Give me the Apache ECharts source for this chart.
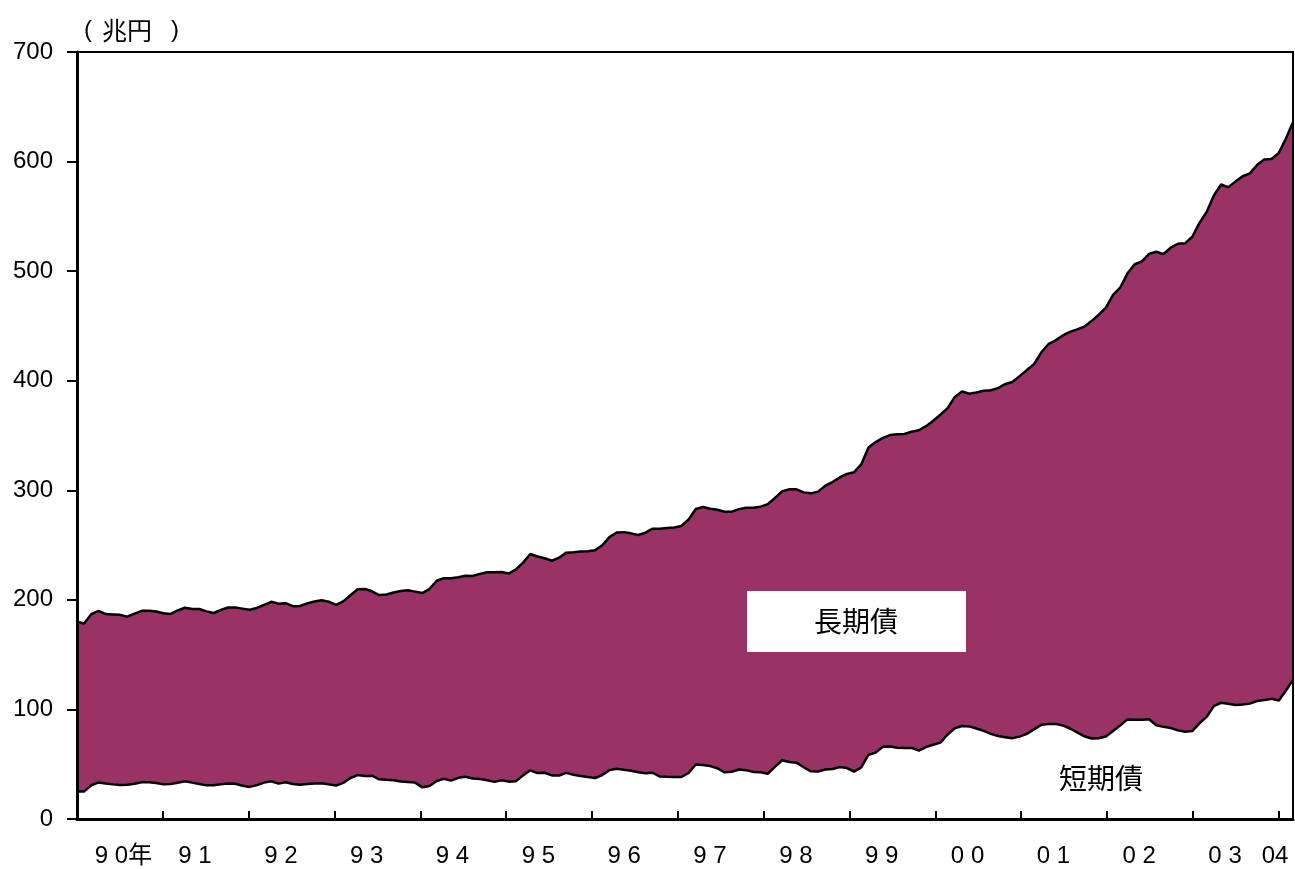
<!DOCTYPE html>
<html>
<head>
<meta charset="utf-8">
<title>短期債・長期債</title>
<script src="https://cdn.jsdelivr.net/npm/echarts@6/dist/echarts.min.js"></script>
<style>
  html, body { margin: 0; padding: 0; background: #fff; }
  #chart { width: 1295px; height: 869px; }
</style>
</head>
<body>
<div id="chart"></div>
<script>
// 月次 1990年1月〜2004年2月
const months = [];
for (let y = 1990; y <= 2004; y++) {
  for (let m = 1; m <= 12; m++) {
    if (y === 2004 && m > 2) break;
    months.push(y + '/' + m);
  }
}

// 年ラベル
const yearLabels = ['9 0年', '9 1', '9 2', '9 3', '9 4', '9 5', '9 6', '9 7',
  '9 8', '9 9', '0 0', '0 1', '0 2', '0 3', '04'];

const yTicks = [0, 100, 200, 300, 400, 500, 600, 700];

// 短期債（兆円）
const shortTerm = [
  25, 25.2, 30.8, 33.4, 32.4, 31.6, 31, 31.2, 32.2, 33.5, 33.5, 32.9,
  31.6, 32, 33, 34.5, 33.2, 32, 30.7, 30.9, 31.7, 32.5, 32.1, 30.3,
  29.3, 30.9, 33.2, 34.4, 32.3, 33.5, 32, 31.2, 31.9, 32.4, 32.7, 31.6,
  30.5, 33, 37.4, 40.1, 39.3, 39.5, 36.2, 35.8, 35.4, 34.3, 33.8, 33.2,
  28.9, 30.1, 34.7, 36.7, 35, 37.6, 38.6, 36.9, 36.5, 35.4, 33.9, 35.4,
  34.1, 34.5, 39.8, 44.4, 41.9, 42.2, 39.8, 39.7, 42.1, 40.4, 39.3, 38.3,
  37.4, 40.1, 44.6, 45.9, 45, 44, 42.6, 41.8, 42.2, 38.7, 38.5, 38.4,
  38.3, 42, 49.7, 49.2, 48.3, 46.3, 42.6, 43.1, 45.2, 44.6, 42.8, 42.6,
  41.3, 47.5, 53.6, 52, 51.3, 47.2, 43.5, 43.4, 45.2, 45.7, 47.5, 46.5,
  43.2, 47.1, 58.7, 60.6, 65.9, 66.2, 65, 64.7, 64.9, 62.5, 65.7, 67.7,
  69.7, 77.1, 82.8, 84.9, 84.5, 82.6, 80.4, 77.7, 75.8, 74.6, 73.8, 75.2,
  77.7, 81.8, 85.9, 86.8, 86.8, 85.4, 82.6, 79, 75.5, 73.5, 73.7, 75.3,
  80.3, 85.5, 90.9, 90.6, 90.6, 91, 85.5, 84.1, 83.1, 80.9, 79.7, 80.2,
  87.3, 93.2, 103, 106.1, 105.1, 104.1, 104.4, 105.3, 107.7, 108.5, 109.8, 108,
  117, 127
];

// 長期債（兆円）
const longTerm = [
  155, 153.3, 156.2, 156.6, 154.6, 155.1, 155.3, 153.4, 155.3, 156.5, 156.5, 156.4,
  156.1, 155.2, 157.3, 158.3, 158.5, 159.6, 158.8, 157.1, 159.1, 160.5, 160.9, 161.7,
  161.7, 161.7, 162.3, 163.8, 164.1, 163.5, 162.2, 163.2, 164.9, 166.1, 166.9, 166.7,
  165, 165.6, 166.8, 169.6, 170.6, 168.3, 168.2, 169.1, 171.3, 173.7, 174.9, 174.3,
  177.3, 179.9, 182.7, 183.1, 184.7, 183, 183.4, 184.9, 187.2, 189.8, 191.3, 190,
  189.9, 193.3, 194.2, 197.5, 197.7, 195.8, 195.9, 198.8, 201, 203.1, 204.8, 206,
  207.9, 209.7, 212.7, 215.6, 216.8, 216.7, 216.6, 219.5, 222.8, 226.3, 227.1, 227.7,
  229.1, 231.3, 233.2, 235.7, 234.8, 235.9, 237.8, 237.4, 237.6, 239.5, 241.3, 242.5,
  246.1, 245.5, 245.4, 248.9, 249.6, 250.9, 253.7, 255.4, 259, 261.8, 264.2, 268.5,
  273.3, 276.6, 280.3, 283.4, 282, 284.2, 286.1, 286.7, 288.6, 292.3, 292.8, 295.7,
  299.3, 297.9, 302.4, 305.3, 303.6, 306.7, 310.4, 313.6, 317.4, 322.4, 325, 329,
  332, 333.2, 339.8, 346.5, 350, 355.9, 362, 367.8, 373.8, 380.9, 386.5, 391.4,
  398, 399.6, 407.1, 415.7, 418.4, 424.8, 432.2, 431.6, 438.3, 444.1, 445.7, 451.2,
  456.7, 460.8, 466, 473, 471.5, 477.6, 482.2, 483.9, 489.2, 493.5, 492.6, 499.6,
  503.8, 509
];

// ラベルを置く月の位置
const labelAt = {};
yearLabels.forEach((t, k) => {
  let idx = k * 12 + 4;
  if (k === 0) idx = 6;
  if (k === yearLabels.length - 1) idx = 167;
  labelAt[idx] = t;
});

const font = "'Liberation Sans', 'Noto Sans CJK JP', sans-serif";
const cjkFont = "'Noto Sans CJK JP', sans-serif";

let chart = echarts.init(document.getElementById('chart'));

let option = {
  animation: false,
  backgroundColor: '#fff',
  grid: {
    left: 77,
    right: 2,
    top: 52,
    bottom: 50,
    show: true,
    borderColor: '#000',
    borderWidth: 2
  },
  xAxis: [
    {
      type: 'category',
      data: months,
      boundaryGap: true,
      z: 10,
      axisLine: { lineStyle: { color: '#000', width: 3 } },
      axisTick: {
        show: true,
        inside: true,
        length: 8,
        interval: (i) => i > 0 && i % 12 === 0,
        lineStyle: { color: '#000', width: 2 }
      },
      axisLabel: {
        interval: (i) => labelAt[i] !== undefined,
        formatter: (v, i) => labelAt[i] || '',
        fontFamily: font,
        fontSize: 24,
        color: '#000',
        margin: 25
      },
      splitLine: { show: false }
    },
    {
      type: 'category',
      data: months,
      boundaryGap: false,
      show: false
    }
  ],
  yAxis: [
    {
      type: 'value',
      min: yTicks[0],
      max: yTicks[yTicks.length - 1],
      interval: 100,
      z: 10,
      axisLine: { show: true, lineStyle: { color: '#000', width: 3 } },
      axisTick: { show: true, length: 10, lineStyle: { color: '#000', width: 2 } },
      axisLabel: {
        fontFamily: font,
        fontSize: 24,
        color: '#000',
        margin: 24
      },
      splitLine: { show: false }
    },
    {
      type: 'value',
      position: 'right',
      min: yTicks[0],
      max: yTicks[yTicks.length - 1],
      z: 10,
      axisLine: { show: true, lineStyle: { color: '#000', width: 2 } },
      axisTick: { show: false },
      axisLabel: { show: false },
      splitLine: { show: false }
    }
  ],
  series: [
    {
      name: '短期債',
      type: 'line',
      xAxisIndex: 1,
      stack: 'total',
      data: shortTerm,
      symbol: 'none',
      z: 3,
      lineStyle: { color: '#000', width: 2.5 },
      areaStyle: { color: '#fff', opacity: 1 }
    },
    {
      name: '長期債',
      type: 'line',
      xAxisIndex: 1,
      stack: 'total',
      data: longTerm,
      symbol: 'none',
      z: 2,
      lineStyle: { color: '#000', width: 2.5 },
      areaStyle: { color: '#993366', opacity: 1 }
    }
  ],
  graphic: [
    // 単位（括弧は間を空けて置く）
    {
      type: 'text',
      x: 84,
      y: 30,
      z: 100,
      style: { text: '(', font: '24px ' + font, fill: '#000', textVerticalAlign: 'middle' }
    },
    {
      type: 'text',
      x: 102,
      y: 30,
      z: 100,
      style: { text: '兆円', font: '25px ' + cjkFont, fill: '#000', textVerticalAlign: 'middle' }
    },
    {
      type: 'text',
      x: 171,
      y: 30,
      z: 100,
      style: { text: ')', font: '24px ' + font, fill: '#000', textVerticalAlign: 'middle' }
    },
    {
      type: 'rect',
      shape: { x: 747, y: 591, width: 219, height: 61 },
      z: 100,
      style: { fill: '#fff' }
    },
    {
      type: 'text',
      x: 856,
      y: 621,
      z: 101,
      style: {
        text: '長期債',
        font: '28px ' + cjkFont,
        fill: '#000',
        textAlign: 'center',
        textVerticalAlign: 'middle'
      }
    },
    {
      type: 'text',
      x: 1101,
      y: 778,
      z: 101,
      style: {
        text: '短期債',
        font: '28px ' + cjkFont,
        fill: '#000',
        textAlign: 'center',
        textVerticalAlign: 'middle'
      }
    }
  ]
};

chart.setOption(option);
</script>
</body>
</html>
